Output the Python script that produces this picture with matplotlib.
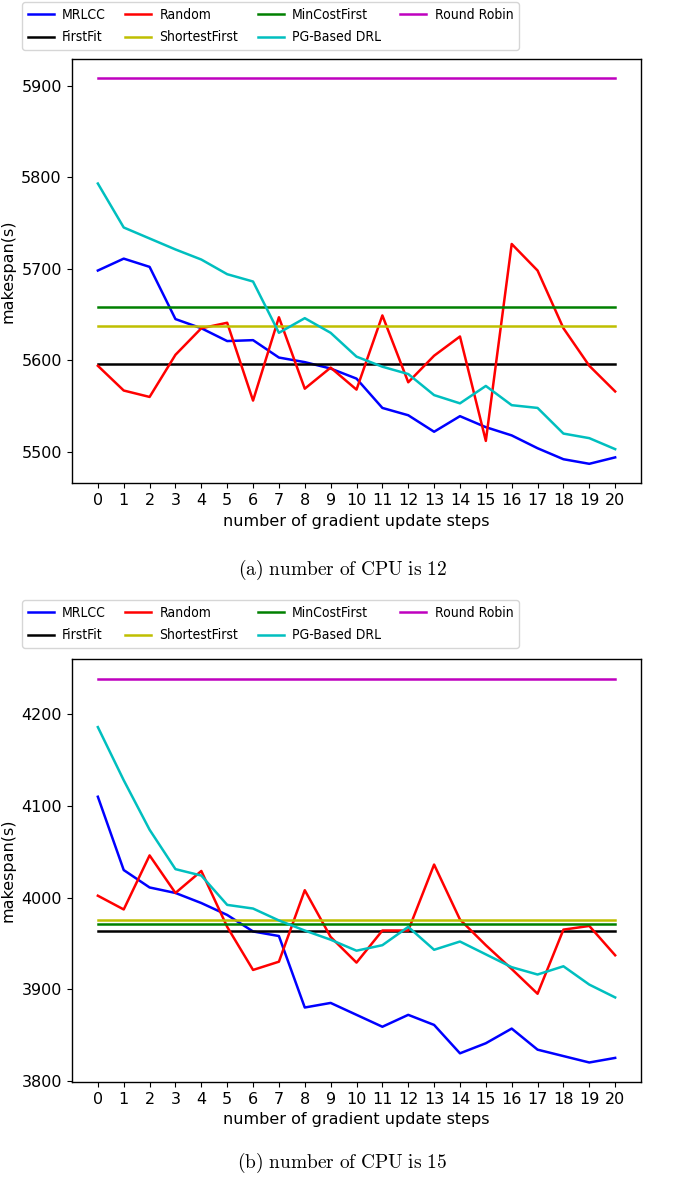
import numpy as np
import matplotlib
matplotlib.use('Agg')
import matplotlib.pyplot as plt
from matplotlib.font_manager import FontProperties

plt.rcParams['mathtext.fontset'] = 'cm'
plt.rcParams['font.size'] = 11.5
plt.rcParams['lines.linewidth'] = 1.8
plt.rcParams['axes.linewidth'] = 1.0
plt.rcParams['xtick.major.size'] = 3.8
plt.rcParams['ytick.major.size'] = 3.8

steps = list(range(21))

# (a) 12 CPUs
mrlcc_12 = [5698, 5711, 5702, 5645, 5635, 5621, 5622, 5603, 5598, 5591, 5580,
            5548, 5540, 5522, 5539, 5527, 5518, 5504, 5492, 5487, 5494]
random_12 = [5594, 5567, 5560, 5606, 5635, 5641, 5556, 5647, 5569, 5592, 5568,
             5649, 5576, 5605, 5626, 5512, 5727, 5698, 5635, 5594, 5566]
pg_12 = [5793, 5745, 5733, 5721, 5710, 5694, 5686, 5630, 5646, 5630, 5604,
         5593, 5585, 5562, 5553, 5572, 5551, 5548, 5520, 5515, 5503]
firstfit_12 = 5596
shortest_12 = 5637
mincost_12 = 5658
roundrobin_12 = 5908

# (b) 15 CPUs
mrlcc_15 = [4110, 4030, 4011, 4005, 3994, 3981, 3963, 3958, 3880, 3885, 3872,
            3859, 3872, 3861, 3830, 3841, 3857, 3834, 3827, 3820, 3825]
random_15 = [4002, 3987, 4046, 4005, 4029, 3968, 3921, 3930, 4008, 3957, 3929,
             3964, 3964, 4036, 3976, 3948, 3922, 3895, 3965, 3969, 3937]
pg_15 = [4186, 4128, 4074, 4031, 4024, 3992, 3988, 3975, 3964, 3954, 3942,
         3948, 3968, 3943, 3952, 3938, 3924, 3916, 3925, 3905, 3891]
firstfit_15 = 3963
shortest_15 = 3976
mincost_15 = 3971
roundrobin_15 = 4239


def draw(ax, mrlcc, rnd, pg, ff, sf, mc, rr):
    n = len(steps)
    ax.plot(steps, mrlcc, color='b', label='MRLCC')
    ax.plot(steps, [ff] * n, color='k', label='FirstFit')
    ax.plot(steps, rnd, color='r', label='Random')
    ax.plot(steps, [sf] * n, color='y', label='ShortestFirst')
    ax.plot(steps, [mc] * n, color='g', label='MinCostFirst')
    ax.plot(steps, pg, color='c', label='PG-Based DRL')
    ax.plot(steps, [rr] * n, color='m', label='Round Robin')
    ax.set_xticks(steps)
    ax.set_xlim(-1, 21)
    ax.set_xlabel('number of gradient update steps')
    ax.set_ylabel('makespan(s)')


fig = plt.figure(figsize=(6.85, 11.79), dpi=100)
ax1 = fig.add_axes([0.1051, 0.5903, 0.8307, 0.3597])
ax2 = fig.add_axes([0.1051, 0.0825, 0.8307, 0.3583])

draw(ax1, mrlcc_12, random_12, pg_12, firstfit_12, shortest_12, mincost_12, roundrobin_12)
ax1.set_ylim(5466, 5929)
ax1.set_yticks([5500, 5600, 5700, 5800, 5900])

draw(ax2, mrlcc_15, random_15, pg_15, firstfit_15, shortest_15, mincost_15, roundrobin_15)
ax2.set_ylim(3799, 4260)
ax2.set_yticks([3800, 3900, 4000, 4100, 4200])

leg_font = FontProperties(family='DejaVu Sans', stretch='condensed', size=10)
for ax, top in [(ax1, 2), (ax2, 600)]:
    h, l = ax.get_legend_handles_labels()
    fig.legend(h, l, ncol=4, loc='upper left', borderaxespad=0,
               bbox_to_anchor=(22 / 685, 1 - top / 1179), prop=leg_font,
               handlelength=1.87, handletextpad=0.6, columnspacing=1.4,
               labelspacing=0.64, borderpad=0.4)

fig.text(0.5, 1 - 570 / 1179, r'$\mathrm{(a)\ number\ of\ CPU\ is\ 12}$',
         ha='center', va='center', fontsize=14)
fig.text(0.5, 1 - 1163 / 1179, r'$\mathrm{(b)\ number\ of\ CPU\ is\ 15}$',
         ha='center', va='center', fontsize=14)

fig.savefig('out.png', dpi=100)
